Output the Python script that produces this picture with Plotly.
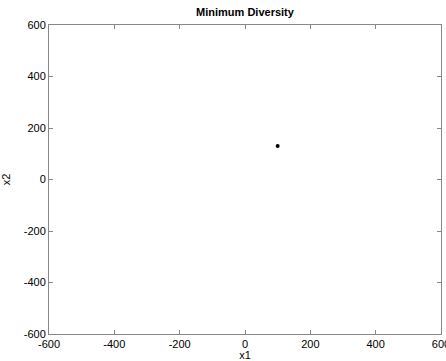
import plotly.graph_objects as go

x1 = [100]
x2 = [130]
tick_vals = [-600, -400, -200, 0, 200, 400, 600]
tick_text = ["-600", "-400", "-200", "0", "200", "400", "600"]

fig = go.Figure()
fig.add_trace(go.Scatter(x=x1, y=x2, mode="markers",
                         marker=dict(color="black", size=4), showlegend=False))

axis_common = dict(
    range=[-600, 600], tickvals=tick_vals, ticktext=tick_text,
    ticks="inside", ticklen=4, automargin=False,
    tickcolor="#888888", showline=True, linecolor="#888888", linewidth=1,
    mirror="ticks", showgrid=False, zeroline=False, ticklabeloverflow="allow",
    tickfont=dict(family="Liberation Sans, Arial", size=11, color="black"),
)
fig.update_xaxes(**axis_common, title=dict(text="x1", standoff=2,
                 font=dict(family="Liberation Sans, Arial", size=11, color="black")))
fig.update_yaxes(**axis_common, title=dict(text="x2", standoff=14,
                 font=dict(family="Liberation Sans, Arial", size=11, color="black")))

fig.update_layout(
    width=446, height=361,
    margin=dict(l=49, r=5, t=25, b=27),
    plot_bgcolor="white", paper_bgcolor="white",
    title=dict(text="<b>Minimum Diversity</b>", x=0.5, xanchor="center",
               xref="paper", y=0.965, yanchor="middle",
               font=dict(family="Liberation Sans, Arial", size=11, color="black")),
)
fig.write_html("out.html")
